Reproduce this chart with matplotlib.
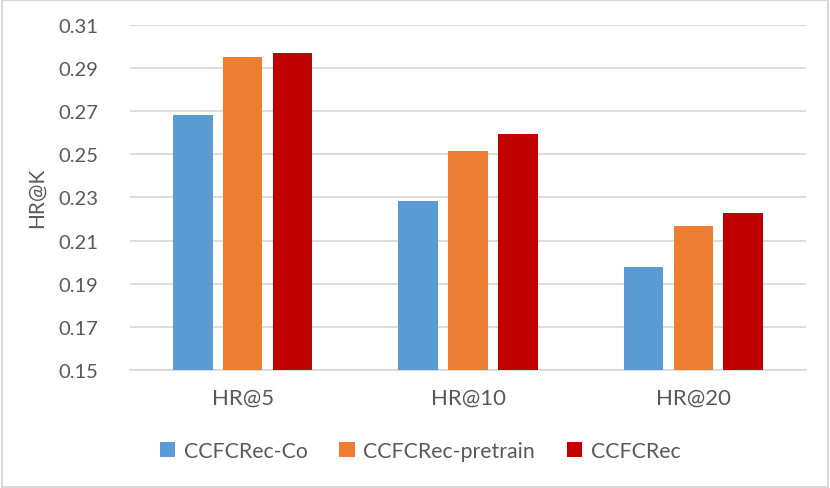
import matplotlib
matplotlib.use("Agg")
import matplotlib.pyplot as plt
import numpy as np

# data
categories = ["HR@5", "HR@10", "HR@20"]
series_names = ["CCFCRec-Co", "CCFCRec-pretrain", "CCFCRec"]
hr_co = [0.268, 0.2284, 0.1976]
hr_pretrain = [0.295, 0.2514, 0.2168]
hr_full = [0.2968, 0.2592, 0.2226]
y_ticks = [0.15, 0.17, 0.19, 0.21, 0.23, 0.25, 0.27, 0.29, 0.31]

colors = ["#5B9BD5", "#ED7D31", "#C00000"]
text_color = "#595959"
grid_color = "#D9D9D9"

plt.rcParams["font.family"] = ["Lato", "DejaVu Sans"]

fig = plt.figure(figsize=(8.3, 4.89), dpi=100)
ax = fig.add_axes([130 / 830, 118 / 489, 676 / 830, 345.3 / 489])

x = np.arange(len(categories))
width = 0.175
step = 0.221
for i, (vals, name) in enumerate(zip([hr_co, hr_pretrain, hr_full], series_names)):
    ax.bar(x + (i - 1) * step, np.array(vals) - 0.15, width, bottom=0.15,
           color=colors[i], label=name, zorder=3)

ax.set_xlim(-0.5, 2.5)
ax.set_ylim(0.15, 0.31)
ax.set_yticks(y_ticks)
ax.set_yticklabels(["%.2f" % t for t in y_ticks])
ax.set_xticks(x)
ax.set_xticklabels(categories)
ax.yaxis.grid(True, color=grid_color, linewidth=1.3, zorder=0)
ax.tick_params(axis="both", length=0, labelsize=14.5, colors=text_color)
ax.tick_params(axis="x", labelsize=16, pad=13)
ax.tick_params(axis="y", pad=23)
for side in ["top", "right", "left"]:
    ax.spines[side].set_visible(False)
ax.spines["bottom"].set_color(grid_color)
ax.spines["bottom"].set_linewidth(1.3)
ax.set_ylabel("HR@K", fontsize=15, color=text_color, labelpad=8)

# legend is centred on the figure, not the axes
fig.legend(loc="center", bbox_to_anchor=(0.506, 0.075), ncol=3, frameon=False,
           fontsize=15.3, labelcolor=text_color, handlelength=0.72,
           handleheight=0.72, handletextpad=0.4, columnspacing=1.5)

# light border around the whole chart
fig.patches.append(plt.Rectangle((0.002, 0.003), 0.996, 0.994, transform=fig.transFigure,
                                 fill=False, edgecolor=grid_color, linewidth=1.5))

fig.savefig("out.png", dpi=100)
